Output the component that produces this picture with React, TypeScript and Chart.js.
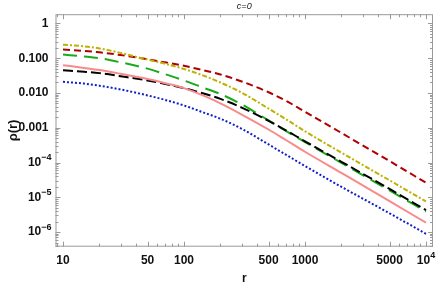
import React, { useEffect, useRef } from "react";
import { Chart, registerables } from "chart.js";

Chart.register(...registerables);

const radii = [10, 15, 20, 30, 50, 70, 100, 150, 200, 300, 500, 700, 1000, 2000, 5000, 10000];
const redSeries = [0.178, 0.162, 0.148, 0.123, 0.0933, 0.0759, 0.0603, 0.0437, 0.0339, 0.0214, 0.0105, 5.89e-3, 2.88e-3, 7.08e-4, 1.1e-4, 2.63e-5];
const yellowSeries = [0.245, 0.219, 0.191, 0.141, 0.0912, 0.0692, 0.049, 0.0302, 0.02, 0.0102, 3.55e-3, 1.74e-3, 7.94e-4, 1.91e-4, 3.09e-5, 7.59e-6];
const greenSeries = [0.127, 0.112, 0.1, 0.0759, 0.0501, 0.0347, 0.0229, 0.0135, 9.33e-3, 4.68e-3, 1.62e-3, 7.94e-4, 3.89e-4, 9.77e-5, 1.58e-5, 3.89e-6];
const pinkSeries = [0.0631, 0.0525, 0.0457, 0.0355, 0.0251, 0.0191, 0.0138, 7.94e-3, 5.01e-3, 2.4e-3, 8.91e-4, 4.37e-4, 2.04e-4, 5.01e-5, 7.76e-6, 1.86e-6];
const blackSeries = [0.0447, 0.0407, 0.0372, 0.0302, 0.0229, 0.0182, 0.0138, 9.33e-3, 6.76e-3, 3.8e-3, 1.58e-3, 8.32e-4, 4.07e-4, 1.05e-4, 1.74e-5, 4.27e-6];
const blueSeries = [0.0209, 0.0186, 0.0162, 0.0126, 8.51e-3, 6.31e-3, 4.37e-3, 2.63e-3, 1.82e-3, 9.33e-4, 3.31e-4, 1.66e-4, 7.94e-5, 2.0e-5, 3.47e-6, 8.91e-7];

const xTickValues = [10, 50, 100, 500, 1000, 5000, 10000];
const xTickLabels = ["10", "50", "100", "500", "1000", "5000", "10^4"];
const yTickValues = [1, 0.1, 0.01, 0.001, 1e-4, 1e-5, 1e-6];
const yTickLabels = ["1", "0.100", "0.010", "0.001", "10^−4", "10^−5", "10^−6"];

const titleText = "c=0";
const xTitle = "r";
const yTitle = "ρ(r)";

const FRAME = "#9a9a9a";
const FONT = "'Liberation Sans', Arial, sans-serif";
const LABEL_COLOR = "#111";
const Y_LABEL_RIGHT = 51.5;
const X_LABEL_Y = 261;

function drawPower(ctx: any, label: string, x: number, y: number, align: "right" | "center") {
  const [base, exp] = label.split("^");
  ctx.font = `bold 12px ${FONT}`;
  const wb = ctx.measureText(base).width;
  ctx.font = `bold 9px ${FONT}`;
  const we = ctx.measureText(exp).width;
  const total = wb + we;
  const start = align === "right" ? x - total : x - total / 2;
  ctx.textAlign = "left";
  ctx.textBaseline = "middle";
  ctx.font = `bold 12px ${FONT}`;
  ctx.fillText(base, start, y);
  ctx.font = `bold 9px ${FONT}`;
  ctx.fillText(exp, start + wb, y - 5);
}

const framePlugin = {
  id: "framePlugin",
  beforeDatasetsDraw(chart: any) {
    const { ctx, chartArea } = chart;
    const { left, right, top, bottom } = chartArea;
    const xs = chart.scales.x;
    const ys = chart.scales.y;
    ctx.save();
    ctx.strokeStyle = FRAME;
    ctx.lineWidth = 1;
    ctx.strokeRect(left + 0.5, top + 0.5, right - left - 1, bottom - top - 1);
    ctx.beginPath();
    for (let e = 0; e <= 4; e++) {
      for (let m = 1; m <= 9; m++) {
        const v = m * Math.pow(10, e);
        if (v < xs.min || v > xs.max) continue;
        const px = Math.round(xs.getPixelForValue(v)) + 0.5;
        const major = xTickValues.includes(v);
        const len = major ? 5 : 3;
        ctx.moveTo(px, bottom);
        ctx.lineTo(px, bottom - len);
        ctx.moveTo(px, top);
        ctx.lineTo(px, top + len);
      }
    }
    for (let e = -7; e <= 0; e++) {
      for (let m = 1; m <= 9; m++) {
        const v = m * Math.pow(10, e);
        if (v < ys.min || v > ys.max) continue;
        const py = Math.round(ys.getPixelForValue(v)) + 0.5;
        const len = m === 1 ? 5 : 3;
        ctx.moveTo(left, py);
        ctx.lineTo(left + len, py);
        ctx.moveTo(right, py);
        ctx.lineTo(right - len, py);
      }
    }
    ctx.stroke();
    ctx.restore();
  },
  afterDraw(chart: any) {
    const { ctx, chartArea } = chart;
    const xs = chart.scales.x;
    const ys = chart.scales.y;
    ctx.save();
    ctx.fillStyle = LABEL_COLOR;
    yTickValues.forEach((v, i) => {
      if (!yTickLabels[i].includes("^")) return;
      drawPower(ctx, yTickLabels[i], Y_LABEL_RIGHT, ys.getPixelForValue(v), "right");
    });
    xTickValues.forEach((v, i) => {
      if (!xTickLabels[i].includes("^")) return;
      drawPower(ctx, xTickLabels[i], xs.getPixelForValue(v), X_LABEL_Y, "center");
    });
    ctx.fillStyle = "#222";
    ctx.font = `italic 9px ${FONT}`;
    ctx.textAlign = "center";
    ctx.textBaseline = "middle";
    ctx.fillText(titleText, (chartArea.left + chartArea.right) / 2, 6);
    ctx.restore();
  },
};

export default function App() {
  const ref = useRef<HTMLCanvasElement | null>(null);
  useEffect(() => {
    document.body.style.margin = "0";
    const canvas = ref.current!;
    const mk = (label: string, data: number[], color: string, dash: number[], width = 2) => ({
      label,
      data: radii.map((r, i) => ({ x: r, y: data[i] })),
      borderColor: color,
      backgroundColor: color,
      borderDash: dash,
      borderWidth: width,
      pointRadius: 0,
      fill: false,
      cubicInterpolationMode: "monotone" as const,
      borderCapStyle: "butt" as const,
    });
    const chart = new Chart(canvas, {
      type: "line",
      data: {
        datasets: [
          mk("pink", pinkSeries, "#f88a8a", []),
          mk("blue", blueSeries, "#1020c8", [2, 2]),
          mk("black", blackSeries, "#000000", [10, 4]),
          mk("green", greenSeries, "#1aaa1a", [14, 7]),
          mk("yellow", yellowSeries, "#bdb200", [5, 2, 2, 2]),
          mk("red", redSeries, "#b00000", [7, 4]),
        ],
      },
      options: {
        animation: false,
        responsive: false,
        maintainAspectRatio: false,
        layout: { padding: { top: 12.7, right: 3, left: 0, bottom: 0 } },
        plugins: {
          legend: { display: false },
          title: { display: false },
          tooltip: { enabled: false },
        },
        scales: {
          x: {
            type: "logarithmic",
            min: 8.67,
            max: 11430,
            grid: { display: false, drawTicks: false, tickLength: 0 },
            border: { display: false },
            afterBuildTicks: (scale: any) => {
              scale.ticks = xTickValues.map((v) => ({ value: v, major: true }));
            },
            afterFit: (scale: any) => {
              scale.height = 39.3;
            },
            ticks: {
              autoSkip: false,
              maxRotation: 0,
              padding: 7,
              color: LABEL_COLOR,
              font: { family: FONT, size: 12, weight: "bold" },
              callback: (v: any) => {
                const i = xTickValues.indexOf(Number(v));
                if (i < 0 || xTickLabels[i].includes("^")) return "";
                return xTickLabels[i];
              },
            },
            title: {
              display: true,
              text: xTitle,
              color: LABEL_COLOR,
              font: { family: FONT, size: 12, weight: "bold" },
              padding: { top: 0, bottom: 0 },
            },
          },
          y: {
            type: "logarithmic",
            min: 3.8e-7,
            max: 1.84,
            grid: { display: false, drawTicks: false, tickLength: 0 },
            border: { display: false },
            afterBuildTicks: (scale: any) => {
              scale.ticks = yTickValues.map((v) => ({ value: v, major: true }));
            },
            afterFit: (scale: any) => {
              scale.width = 55.5;
            },
            ticks: {
              autoSkip: false,
              padding: 7,
              color: LABEL_COLOR,
              font: { family: FONT, size: 12, weight: "bold" },
              callback: (v: any) => {
                const i = yTickValues.findIndex((t) => Math.abs(t - Number(v)) / t < 1e-6);
                if (i < 0 || yTickLabels[i].includes("^")) return "";
                return yTickLabels[i];
              },
            },
            title: {
              display: true,
              text: yTitle,
              color: LABEL_COLOR,
              font: { family: FONT, size: 13, weight: "bold" },
              padding: { top: 6, bottom: 0 },
            },
          },
        },
      },
      plugins: [framePlugin],
    });
    return () => chart.destroy();
  }, []);
  return (
    <div style={{ position: "fixed", left: 0, top: 0, width: 436, height: 286 }}>
      <canvas ref={ref} width={436} height={286} style={{ width: 436, height: 286 }} />
    </div>
  );
}
